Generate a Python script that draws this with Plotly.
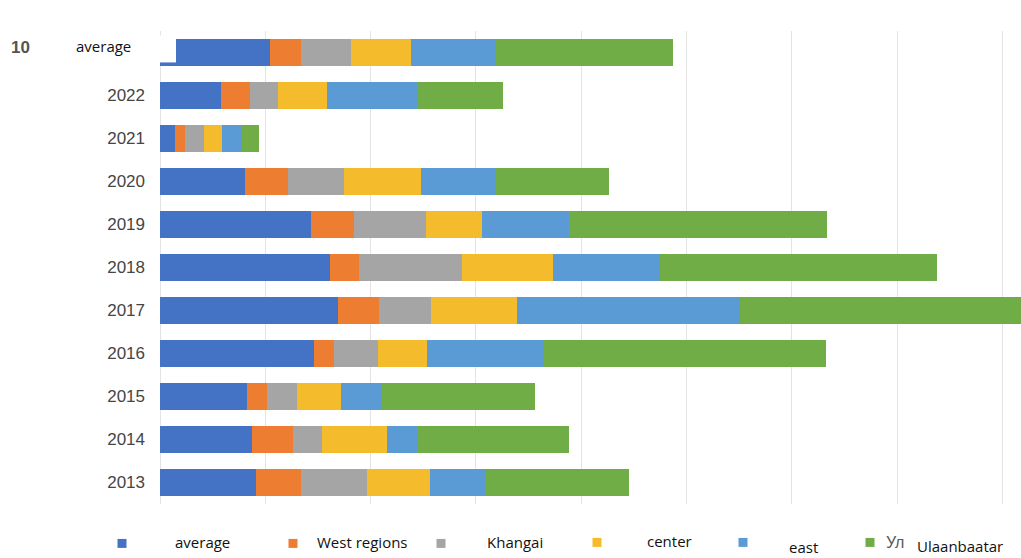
import plotly.graph_objects as go

# Rows, top to bottom
categories = ["average", "2022", "2021", "2020", "2019", "2018", "2017", "2016", "2015", "2014", "2013"]

# Stacked segment values per region
average_vals = [10.4, 5.8, 1.4, 8.1, 14.3, 16.1, 16.9, 14.6, 8.3, 8.7, 9.1]
west_vals = [3.0, 2.7, 1.0, 4.1, 4.1, 2.8, 3.9, 1.9, 1.9, 3.9, 4.3]
khangai_vals = [4.7, 2.7, 1.8, 5.3, 6.9, 9.8, 4.9, 4.2, 2.8, 2.8, 6.3]
center_vals = [5.7, 4.7, 1.7, 7.3, 5.3, 8.6, 8.2, 4.7, 4.2, 6.2, 5.9]
east_vals = [8.1, 8.6, 1.9, 7.0, 8.2, 10.2, 21.2, 11.1, 3.8, 2.9, 5.4]
ulaanbaatar_vals = [16.8, 8.1, 1.6, 10.8, 24.5, 26.3, 28.0, 26.7, 14.6, 14.3, 13.5]

series_names = ["average", "West regions", "Khangai", "center", "east", "Ulaanbaatar"]
series_values = [average_vals, west_vals, khangai_vals, center_vals, east_vals, ulaanbaatar_vals]
colors = ["#4472C4", "#ED7D31", "#A5A5A5", "#F4BC2C", "#5B9BD5", "#70AD47"]

W, H = 1021, 558
ML, MR, MT, MB = 160, 0, 30.5, 53.5
PW, PH = W - ML - MR, H - MT - MB


def px(x):
    return (x - ML) / PW


def py(y):
    return (H - MB - y) / PH


fig = go.Figure()
for name, vals, col in zip(series_names, series_values, colors):
    fig.add_trace(go.Bar(
        y=categories, x=vals, name=name, orientation="h",
        marker=dict(color=col, line=dict(width=0)),
        showlegend=False,
    ))

tick_labels = ["" if c == "average" else c for c in categories]

fig.update_layout(
    width=W, height=H,
    margin=dict(l=ML, r=MR, t=MT, b=MB, pad=0),
    barmode="stack", bargap=0.37,
    plot_bgcolor="white", paper_bgcolor="white",
    xaxis=dict(range=[0, PW / 10.53], dtick=10, showticklabels=False,
               showgrid=True, gridcolor="#E3E3E3", gridwidth=1,
               zeroline=True, zerolinecolor="#E3E3E3", zerolinewidth=1,
               fixedrange=True),
    yaxis=dict(categoryorder="array", categoryarray=categories, autorange="reversed",
               tickmode="array", tickvals=categories, ticktext=tick_labels,
               tickfont=dict(family="Liberation Sans, Arial", size=17, color="#454545"),
               ticks="", ticklabelstandoff=14, showgrid=False, zeroline=False,
               showline=False),
    font=dict(family="Liberation Sans, Arial"),
)

shapes = []
annotations = []

# White label patch over the left end of the top row
shapes.append(dict(type="rect", xref="paper", yref="paper",
                   x0=px(150), x1=px(176), y0=py(62), y1=py(35),
                   fillcolor="white", line=dict(width=0), layer="above"))
annotations.append(dict(text="average", xref="paper", yref="paper", x=px(74), y=py(46),
                        xanchor="left", yanchor="middle", showarrow=False,
                        font=dict(family="Open Sans", size=15, color="#111111")))
annotations.append(dict(text="<b>10</b>", xref="paper", yref="paper", x=px(9), y=py(47),
                        xanchor="left", yanchor="middle", showarrow=False,
                        font=dict(family="Liberation Sans, Arial", size=17, color="#555555")))

# Legend row
legend_items = [
    ("average", 122, 544, 173, 543),
    ("West regions", 293, 544, 315, 543),
    ("Khangai", 441, 544, 485, 543),
    ("center", 597, 543, 645, 542),
    ("east", 743, 543, 787, 548),
    ("Ulaanbaatar", 870, 543, 916, 547),
]
for (label, mx, my, tx, ty), col in zip(legend_items, colors):
    s = 4.5
    shapes.append(dict(type="rect", xref="paper", yref="paper",
                       x0=px(mx - s), x1=px(mx + s), y0=py(my + s), y1=py(my - s),
                       fillcolor=col, line=dict(width=0)))
    if label == "Ulaanbaatar":
        annotations.append(dict(text="Ул", xref="paper", yref="paper", x=px(884), y=py(543),
                                xanchor="left", yanchor="middle", showarrow=False,
                                font=dict(family="Liberation Sans, Arial", size=16, color="#595959")))
        annotations.append(dict(text=label, xref="paper", yref="paper", x=px(914), y=py(ty),
                                xanchor="left", yanchor="middle", showarrow=False,
                                bgcolor="white", borderpad=2,
                                font=dict(family="Open Sans", size=15, color="#111111")))
    else:
        annotations.append(dict(text=label, xref="paper", yref="paper", x=px(tx), y=py(ty),
                                xanchor="left", yanchor="middle", showarrow=False,
                                font=dict(family="Open Sans", size=15, color="#111111")))

fig.update_layout(shapes=shapes, annotations=annotations)
fig.write_html("out.html", config={"displayModeBar": False})
